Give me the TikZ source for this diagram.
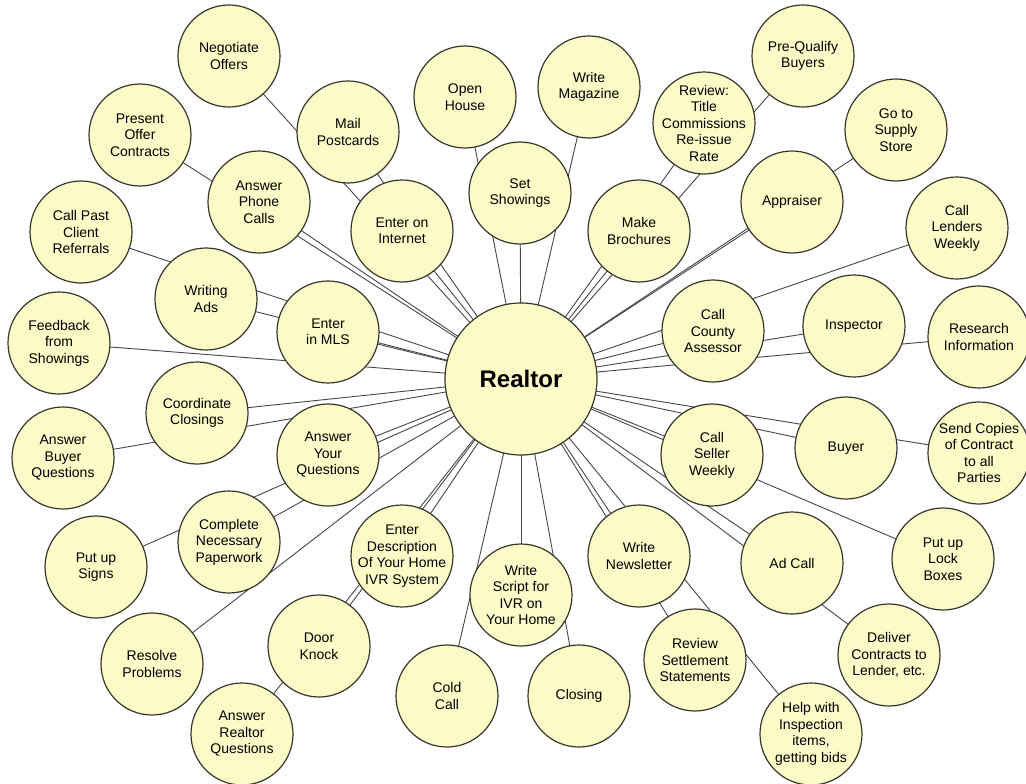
\documentclass[tikz,border=0pt]{standalone}
\usepackage{fontspec}
\setmainfont{Liberation Sans}
\usetikzlibrary{backgrounds}
\definecolor{bubfill}{RGB}{252,250,198}
\definecolor{bubline}{RGB}{55,55,45}
\definecolor{spoke}{RGB}{70,70,70}
\tikzset{
 bub/.style={circle, draw=bubline, line width=1.2pt, fill=bubfill, minimum size=102pt, inner sep=0pt},
 hub/.style={circle, draw=bubline, line width=1.2pt, fill=bubfill, minimum size=152pt, inner sep=0pt},
 txt/.style={align=center, font=\fontsize{14}{16.5}\selectfont, inner sep=0pt},
 hubtxt/.style={font=\fontsize{24}{28}\selectfont\bfseries, inner sep=0pt},
 spokeline/.style={draw=spoke, line width=0.9pt}
}
\begin{document}
\begin{tikzpicture}[x=1pt,y=-1pt]
\useasboundingbox (0,0) rectangle (1026,784);
\node[hub] (R) at (521,379) {};
\node[hubtxt] (Rt) at (R) {Realtor};
\foreach \i/\x/\y/\t in {
 1/229/56/{Negotiate\\Offers},
 2/140/135/{Present\\Offer\\Contracts},
 3/465/97/{Open\\House},
 4/348/132/{Mail\\Postcards},
 5/259/202/{Answer\\Phone\\Calls},
 6/402/231/{Enter on\\Internet},
 7/520/193/{Set\\Showings},
 8/81/232/{Call Past\\Client\\Referrals},
 9/206/299/{Writing\\Ads},
 10/328/332/{Enter\\in MLS},
 11/59/343/{Feedback\\from\\Showings},
 12/589/87/{Write\\Magazine},
 13/704/123/{Review:\\Title\\Commissions\\Re-issue\\Rate},
 14/803/56/{Pre-Qualify\\Buyers},
 15/896/130/{Go to\\Supply\\Store},
 16/639/231/{Make\\Brochures},
 17/792/202/{Appraiser},
 18/957/228/{Call\\Lenders\\Weekly},
 19/713/331/{Call\\County\\Assessor},
 20/854/326/{Inspector},
 21/979/337/{Research\\Information},
 22/197/413/{Coordinate\\Closings},
 23/63/458/{Answer\\Buyer\\Questions},
 24/328/455/{Answer\\Your\\Questions},
 25/229/542/{Complete\\Necessary\\Paperwork},
 26/96/567/{Put up\\Signs},
 27/402/556/{Enter\\Description\\Of Your Home\\IVR System},
 28/152/664/{Resolve\\Problems},
 29/319/646/{Door\\Knock},
 30/242/734/{Answer\\Realtor\\Questions},
 31/447/696/{Cold\\Call},
 32/521/595/{Write\\Script for\\IVR on\\Your Home},
 33/712/455/{Call\\Seller\\Weekly},
 34/846/448/{Buyer},
 35/979/453/{Send Copies\\of Contract\\to all\\Parties},
 36/639/556/{Write\\Newsletter},
 37/792/563/{Ad Call},
 38/943/559/{Put up\\Lock\\Boxes},
 39/579/696/{Closing},
 40/695/660/{Review\\Settlement\\Statements},
 41/889/655/{Deliver\\Contracts to\\Lender, etc.},
 42/811/734/{Help with\\Inspection\\items,\\getting bids}}
{
 \node[bub] (n\i) at (\x,\y) {};
 \node[txt] (t\i) at (n\i) {\t};
}
\begin{pgfonlayer}{background}
\foreach \i in {1,...,42} \draw[spokeline] (R.center) -- (n\i.center);
\end{pgfonlayer}
\end{tikzpicture}
\end{document}
